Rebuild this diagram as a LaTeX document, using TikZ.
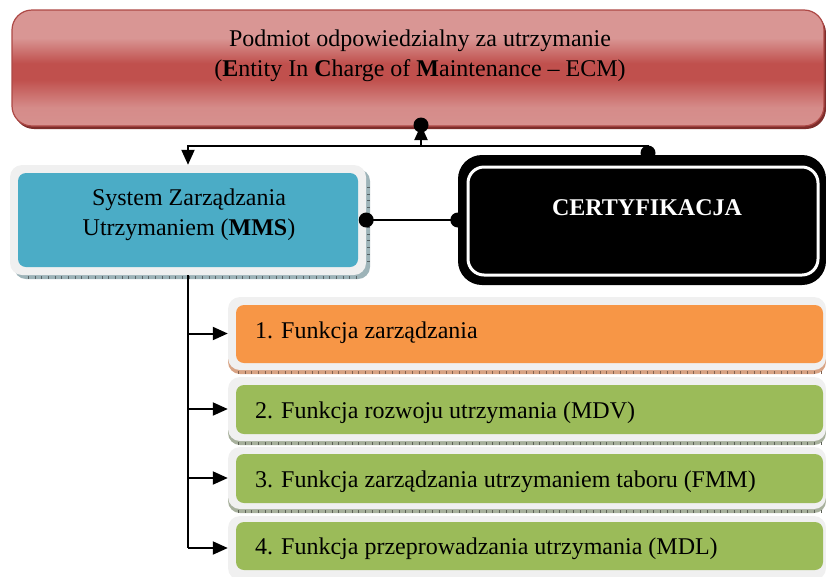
\documentclass[tikz,border=0pt]{standalone}
\usepackage{fontspec}
\setmainfont{Liberation Serif}
\usetikzlibrary{arrows.meta,calc}

\definecolor{ecmlight}{HTML}{D99694}
\definecolor{ecmdark}{HTML}{C0504D}
\definecolor{ecmedge}{HTML}{7E2D2B}
\definecolor{framegray}{HTML}{F0F0F0}
\definecolor{mmsfill}{HTML}{4BACC6}
\definecolor{mmsedge}{HTML}{9DB3B8}
\definecolor{fnonefill}{HTML}{F79646}
\definecolor{fnoneedge}{HTML}{D8A384}
\definecolor{fnfill}{HTML}{9BBB59}
\definecolor{fnedge}{HTML}{A7B09C}

% glossy red band across the top box
\pgfdeclareverticalshading{ecmshade}{100bp}{%
  color(0bp)=(ecmlight!92!ecmdark); color(25bp)=(ecmlight!92!ecmdark);
  color(33bp)=(ecmlight!85!ecmdark); color(45bp)=(ecmdark);
  color(52bp)=(ecmdark); color(63bp)=(ecmlight); color(75bp)=(ecmlight);
  color(100bp)=(ecmlight)}

\tikzset{
  txt/.style={font=\fontsize{24pt}{30pt}\selectfont, inner sep=0pt},
  ecmbox/.style={rectangle, rounded corners=20pt, shading=ecmshade,
    draw=ecmdark!90!black, line width=1.2pt},
  ecmshadow/.style={rectangle, rounded corners=20pt, fill=ecmedge},
  outerframe/.style={rectangle, rounded corners=12pt, fill=framegray},
  edgeband/.style={rectangle, rounded corners=12pt},
  innerbox/.style={rectangle, rounded corners=8pt},
  certbox/.style={rectangle, rounded corners=24pt, fill=black},
  certline/.style={rectangle, rounded corners=16pt, draw=white, line width=3pt},
  conn/.style={line width=2pt, black},
  tip/.style={-{Triangle[length=15pt,width=13pt]}},
  dot/.style={circle, fill=black, inner sep=0pt, minimum size=15pt},
  ticks/.style={line width=3pt, dash pattern=on 0.7pt off 6pt},
}

\begin{document}
\begin{tikzpicture}[x=1pt,y=-1pt]
\useasboundingbox (0,0) rectangle (826,576);

% ---------- top: entity in charge of maintenance ----------
\node[ecmshadow, minimum width=812pt, minimum height=116pt] (ecmedge) at (420,71) {};
\node[ecmbox, minimum width=812pt, minimum height=116pt] (ecm) at (418,68) {};
\node[txt, align=center] (ecmtext) at (420,56)
  {Podmiot odpowiedzialny za utrzymanie\\
   (\textbf{E}ntity In \textbf{C}harge of \textbf{M}aintenance -- ECM)};

% ---------- MMS ----------
\node[edgeband, fill=mmsedge, minimum width=356pt, minimum height=110pt] (mmsedge) at (192,224) {};
\draw[ticks, mmsedge!55!black] ($(mmsedge.south west)+(14,-2)$) -- ($(mmsedge.south east)+(-14,-2)$);
\draw[ticks, mmsedge!55!black] ($(mmsedge.north east)+(-2,18)$) -- ($(mmsedge.south east)+(-2,-14)$);
\node[outerframe, minimum width=356pt, minimum height=110pt] (mms) at (188,220) {};
\node[innerbox, fill=mmsfill, minimum width=340pt, minimum height=94pt] (mmsinner) at (188,220) {};
\node[txt, align=center] (mmstext) at (189,215)
  {System Zarządzania\\Utrzymaniem (\textbf{MMS})};

% ---------- certification ----------
\node[certbox, minimum width=368pt, minimum height=130pt] (cert) at (642,220) {};
\node[certline, minimum width=350pt, minimum height=108pt] (certinner) at (643,221) {};
\node[txt, text=white, font=\fontsize{24pt}{30pt}\selectfont\bfseries] (certtext) at (647,208) {CERTYFIKACJA};

% ---------- functions ----------
\node[edgeband, fill=fnoneedge, minimum width=598pt, minimum height=73pt] (f1edge) at (527,337.5) {};
\draw[ticks, fnoneedge!60!black] ($(f1edge.south west)+(10,-2)$) -- ($(f1edge.south east)+(-4,-2)$);
\node[outerframe, minimum width=598pt, minimum height=73pt] (f1) at (527,333.5) {};
\node[innerbox, fill=fnonefill, minimum width=587pt, minimum height=58pt] (f1inner) at (529.5,334) {};
\node[txt, anchor=base west] (f1text) at (255,338) {1. Funkcja zarządzania};

\node[edgeband, fill=fnedge, minimum width=598pt, minimum height=64pt] (f2edge) at (527,413) {};
\draw[ticks, fnedge!55!black] ($(f2edge.south west)+(10,-2)$) -- ($(f2edge.south east)+(-4,-2)$);
\node[outerframe, minimum width=598pt, minimum height=64pt] (f2) at (527,409) {};
\node[innerbox, fill=fnfill, minimum width=587pt, minimum height=49pt] (f2inner) at (529.5,409.5) {};
\node[txt, anchor=base west] (f2text) at (255,418) {2. Funkcja rozwoju utrzymania (MDV)};

\node[edgeband, fill=fnedge, minimum width=598pt, minimum height=62pt] (f3edge) at (527,482) {};
\draw[ticks, fnedge!55!black] ($(f3edge.south west)+(10,-2)$) -- ($(f3edge.south east)+(-4,-2)$);
\node[outerframe, minimum width=598pt, minimum height=62pt] (f3) at (527,478) {};
\node[innerbox, fill=fnfill, minimum width=587pt, minimum height=49pt] (f3inner) at (529.5,478.5) {};
\node[txt, anchor=base west] (f3text) at (255,487) {3. Funkcja zarządzania utrzymaniem taboru (FMM)};

\node[outerframe, minimum width=598pt, minimum height=64pt] (f4) at (527,548) {};
\node[innerbox, fill=fnfill, minimum width=587pt, minimum height=48pt] (f4inner) at (529.5,546) {};
\node[txt, anchor=base west] (f4text) at (255,554) {4. Funkcja przeprowadzania utrzymania (MDL)};

% ---------- connectors ----------
\coordinate (hub) at (421,146);
\coordinate (ecmport) at (421,125);
\coordinate (certport) at (648,153);

\draw[conn] (certport) |- (hub);
\draw[conn, tip] (hub) -- (ecmport);
\node[dot] (ecmdot) at (ecmport) {};
\node[dot] (certdot) at (certport) {};
\draw[conn, tip] (hub) -| (mms.north);

\draw[conn] (mms.east) -- (mms.east -| cert.west);
\node[dot] (mmsdot) at (mms.east) {};
\node[dot] (certdot2) at (mms.east -| cert.west) {};

\draw[conn] (mms.south) -- (mms.south |- f4.west);
\draw[conn, tip] (mms.south |- f1.west) -- (f1.west);
\draw[conn, tip] (mms.south |- f2.west) -- (f2.west);
\draw[conn, tip] (mms.south |- f3.west) -- (f3.west);
\draw[conn, tip] (mms.south |- f4.west) -- (f4.west);
\end{tikzpicture}
\end{document}
